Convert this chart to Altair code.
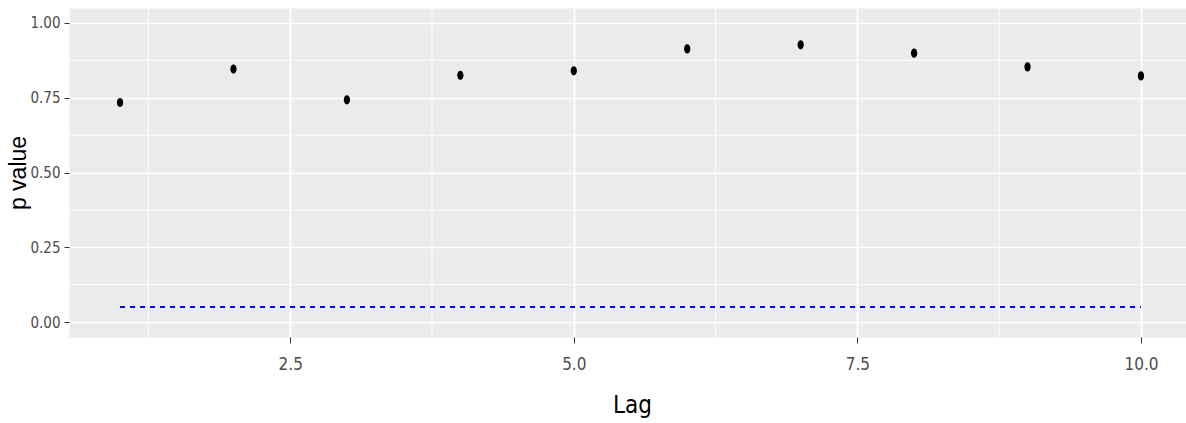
import altair as alt
import pandas as pd

lags = [1, 2, 3, 4, 5, 6, 7, 8, 9, 10]
p_values = [0.734, 0.846, 0.743, 0.825, 0.840, 0.913, 0.927, 0.899, 0.853, 0.823]
threshold = 0.05
x_ticks = [2.5, 5.0, 7.5, 10.0]
x_minor = [1.25, 3.75, 6.25, 8.75]
y_ticks = [0.0, 0.25, 0.5, 0.75, 1.0]
y_minor = [0.125, 0.375, 0.625, 0.875]

pts = pd.DataFrame({"Lag": lags, "p": p_values})
thr = pd.DataFrame({"Lag": [lags[0], lags[-1]], "p": [threshold, threshold]})
xm = pd.DataFrame({"v": x_minor})
ym = pd.DataFrame({"v": y_minor})

XDOM = [0.55, 10.397]
YDOM = [-0.05, 1.05]
LABEL_FONT = "DejaVu Sans Condensed, Liberation Sans, sans-serif"

xscale = alt.Scale(domain=XDOM, nice=False, zero=False)
yscale = alt.Scale(domain=YDOM, nice=False, zero=False)

x_axis = alt.Axis(
    values=x_ticks, format=".1f", title="Lag", grid=True, gridColor="white",
    gridWidth=1.7, domain=False, tickSize=6, tickColor="#333333", tickWidth=1,
    labelFont=LABEL_FONT, labelFontSize=17, labelColor="#4D4D4D", labelPadding=13,
    titleFont=LABEL_FONT, titleFontSize=24, titleFontWeight="normal", titleColor="black",
    titleX=563, titleY=75, titleBaseline="alphabetic", titleAnchor="start", titleAlign="center",
    labelFlush=False,
)
y_axis = alt.Axis(
    values=y_ticks, format=".2f", title="p value", grid=True, gridColor="white",
    gridWidth=1.7, domain=False, tickSize=5, tickColor="#333333", tickWidth=1,
    labelFont=LABEL_FONT, labelFontSize=15, labelColor="#4D4D4D", labelPadding=4,
    titleFont="Liberation Sans, sans-serif", titleFontSize=23, titleFontWeight="normal", titleColor="black",
    titleX=-51, titleY=164.5, titleAngle=270, titleAlign="center", titleBaseline="middle",
    titleAnchor="start", labelFlush=False,
)

minor_x = alt.Chart(xm).mark_rule(color="white", strokeWidth=0.9).encode(
    x=alt.X("v:Q", scale=xscale, axis=x_axis)
)
minor_y = alt.Chart(ym).mark_rule(color="white", strokeWidth=0.9).encode(
    y=alt.Y("v:Q", scale=yscale, axis=y_axis)
)

line = alt.Chart(thr).mark_line(color="#0000FF", strokeWidth=2, strokeDash=[5, 5]).encode(
    x=alt.X("Lag:Q", scale=xscale),
    y=alt.Y("p:Q", scale=yscale),
)

ellipse = "M -0.68 0 A 0.68 1 0 1 0 0.68 0 A 0.68 1 0 1 0 -0.68 0 Z"
points = alt.Chart(pts).mark_point(
    shape=ellipse, filled=True, color="black", opacity=1, size=85
).encode(
    x=alt.X("Lag:Q", scale=xscale),
    y=alt.Y("p:Q", scale=yscale),
)

chart = (
    alt.layer(minor_x, minor_y, line, points)
    .properties(
        width=1117,
        height=329,
        autosize=alt.AutoSizeParams(type="none"),
        padding={"left": 69, "top": 8, "right": 0, "bottom": 86},
        background="white",
    )
    .configure_view(fill="#EBEBEB", stroke="transparent")
)

chart.save("out.html", embed_options={"renderer": "svg", "actions": False})
